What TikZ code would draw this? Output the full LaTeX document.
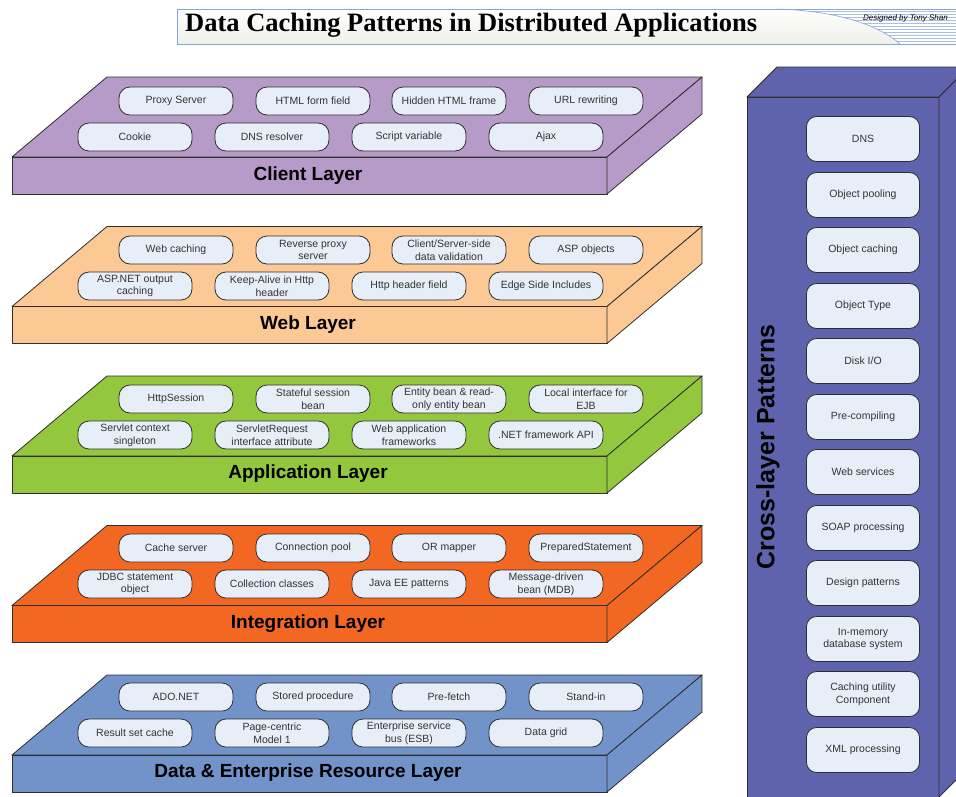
\documentclass[tikz,border=0pt]{standalone}
\usepackage{fontspec}
\setmainfont{Liberation Sans}
\newfontfamily\titlefont{Liberation Serif}
\usetikzlibrary{calc}

\definecolor{edge}{HTML}{2E2E2E}
\definecolor{pillfill}{HTML}{E8EEF7}
\definecolor{pilltext}{HTML}{333333}
\definecolor{clientc}{HTML}{B69BC8}
\definecolor{webc}{HTML}{FCC994}
\definecolor{appc}{HTML}{93C83E}
\definecolor{integc}{HTML}{F26822}
\definecolor{datac}{HTML}{7193CA}
\definecolor{crossc}{HTML}{5F63AD}
\definecolor{titleedge}{HTML}{86A3DB}
\definecolor{stripe}{HTML}{A9BEE8}
\definecolor{titlebot}{HTML}{EEF0EA}

\tikzset{
  slabface/.style={draw=edge, line width=0.8pt, line join=round},
  pill/.style={draw=edge, fill=pillfill, line width=0.8pt, rounded corners=11pt,
    minimum width=114pt, minimum height=28pt, inner sep=1pt, align=center,
    text=pilltext, font=\fontsize{10.5}{12.8}\selectfont},
  cbox/.style={pill, minimum width=113pt, minimum height=45pt, rounded corners=10pt},
  layerlabel/.style={font=\bfseries\fontsize{19}{22}\selectfont, text=black}
}

% one slab of the layer stack, top back edge at y = #1
\newcommand{\slab}[2]{%
  \fill[#2, slabface] (107,#1) -- (702,#1) -- (607,{#1+80}) -- (12,{#1+80}) -- cycle;
  \fill[#2, slabface] (12,{#1+80}) rectangle (607,{#1+117});
  \fill[#2, slabface] (607,{#1+80}) -- (702,#1) -- (702,{#1+37}) -- (607,{#1+117}) -- cycle;
}

\begin{document}
\begin{tikzpicture}[x=1pt, y=-1pt]
\useasboundingbox (0,0) rectangle (956,796);
\clip (0,0) rectangle (956,796);

% ---------- title banner ----------
\shade[top color=white, bottom color=titlebot] (177,9) rectangle (960,44);
\begin{scope}
  \clip (777,9) .. controls (840,11) and (880,26) .. (900,44) -- (960,44) -- (960,9) -- cycle;
  \fill[white] (770,9) rectangle (960,44);
  \foreach \yy in {11,14,...,44} \draw[stripe, line width=1pt] (770,\yy) -- (960,\yy);
\end{scope}
\draw[titleedge, line width=0.6pt] (777,9) .. controls (840,11) and (880,26) .. (900,44);
\draw[titleedge, line width=1pt] (960,9) -- (177,9) -- (177,44) -- (960,44);
\node[anchor=west, inner sep=0pt, font=\titlefont\bfseries\fontsize{26.5}{30}\selectfont]
  (title) at (185,25) {Data Caching Patterns in Distributed Applications};
\node[anchor=east, inner sep=0pt, font=\itshape\fontsize{8}{9}\selectfont]
  (credit) at (948,18) {Designed by Tony Shan};

% ---------- client layer ----------
\slab{77}{clientc}
\node[pill] (proxy)       at (176,101) {Proxy Server};
\node[pill] (formfield)   at (313,101) {HTML form field};
\node[pill] (hiddenframe) at (449,101) {Hidden HTML frame};
\node[pill] (urlrewrite)  at (586,101) {URL rewriting};
\node[pill] (cookie)      at (135,137) {Cookie};
\node[pill] (dnsres)      at (272,137) {DNS resolver};
\node[pill] (scriptvar)   at (409,137) {Script variable};
\node[pill] (ajax)        at (546,137) {Ajax};
\node[layerlabel] (clientlbl) at (308,176) {Client Layer};

% ---------- web layer ----------
\slab{226.5}{webc}
\node[pill] (webcache)   at (176,250) {Web caching};
\node[pill] (revproxy)   at (313,250) {Reverse proxy\\server};
\node[pill] (validation) at (449,250) {Client/Server-side\\data validation};
\node[pill] (aspobj)     at (586,250) {ASP objects};
\node[pill] (aspout)     at (135,286) {ASP.NET output\\caching};
\node[pill] (keepalive)  at (272,286) {Keep-Alive in Http\\header};
\node[pill] (httpheader) at (409,286) {Http header field};
\node[pill] (esi)        at (546,286) {Edge Side Includes};
\node[layerlabel] (weblbl) at (308,325) {Web Layer};

% ---------- application layer ----------
\slab{376}{appc}
\node[pill] (httpsession) at (176,399) {HttpSession};
\node[pill] (stateful)    at (313,399) {Stateful session\\bean};
\node[pill] (entitybean)  at (449,399) {Entity bean \& read-\\only entity bean};
\node[pill] (localejb)    at (586,399) {Local interface for\\EJB};
\node[pill] (servletctx)  at (135,435) {Servlet context\\singleton};
\node[pill] (servletreq)  at (272,435) {ServletRequest\\interface attribute};
\node[pill] (webfw)       at (409,435) {Web application\\frameworks};
\node[pill] (netapi)      at (546,435) {.NET framework API};
\node[layerlabel] (applbl) at (308,474) {Application Layer};

% ---------- integration layer ----------
\slab{525.5}{integc}
\node[pill] (cacheserver) at (176,548) {Cache server};
\node[pill] (connpool)    at (313,548) {Connection pool};
\node[pill] (ormapper)    at (449,548) {OR mapper};
\node[pill] (prepstmt)    at (586,548) {PreparedStatement};
\node[pill] (jdbcstmt)    at (135,584) {JDBC statement\\object};
\node[pill] (collections) at (272,584) {Collection classes};
\node[pill] (javaee)      at (409,584) {Java EE patterns};
\node[pill] (mdb)         at (546,584) {Message-driven\\bean (MDB)};
\node[layerlabel] (integlbl) at (308,624) {Integration Layer};

% ---------- data & enterprise resource layer ----------
\slab{675}{datac}
\node[pill] (adonet)      at (176,697) {ADO.NET};
\node[pill] (storedproc)  at (313,697) {Stored procedure};
\node[pill] (prefetch)    at (449,697) {Pre-fetch};
\node[pill] (standin)     at (586,697) {Stand-in};
\node[pill] (resultset)   at (135,733) {Result set cache};
\node[pill] (pagecentric) at (272,733) {Page-centric\\Model 1};
\node[pill] (esb)         at (409,733) {Enterprise service\\bus (ESB)};
\node[pill] (datagrid)    at (546,733) {Data grid};
\node[layerlabel] (datalbl) at (308,773) {Data \& Enterprise Resource Layer};

% ---------- cross-layer column ----------
\fill[crossc, slabface] (747,97) -- (777,67) -- (969,67) -- (939,97) -- cycle;
\fill[crossc, slabface] (747,97) rectangle (939,797);
\fill[crossc, slabface] (939,97) -- (969,67) -- (969,767) -- (939,797) -- cycle;
\node[rotate=90, font=\bfseries\fontsize{25}{28}\selectfont, text=black]
  (crosslbl) at (768,447) {Cross-layer Patterns};

\node[cbox] (dns)       at (863,139) {DNS};
\node[cbox] (objpool)   at (863,195) {Object pooling};
\node[cbox] (objcache)  at (863,250) {Object caching};
\node[cbox] (objtype)   at (863,306) {Object Type};
\node[cbox] (diskio)    at (863,361) {Disk I/O};
\node[cbox] (precomp)   at (863,417) {Pre-compiling};
\node[cbox] (websvc)    at (863,472) {Web services};
\node[cbox] (soap)      at (863,528) {SOAP processing};
\node[cbox] (designpat) at (863,583) {Design patterns};
\node[cbox] (inmem)     at (863,639) {In-memory\\database system};
\node[cbox] (cacheutil) at (863,694) {Caching utility\\Component};
\node[cbox] (xmlproc)   at (863,750) {XML processing};
\end{tikzpicture}
\end{document}
